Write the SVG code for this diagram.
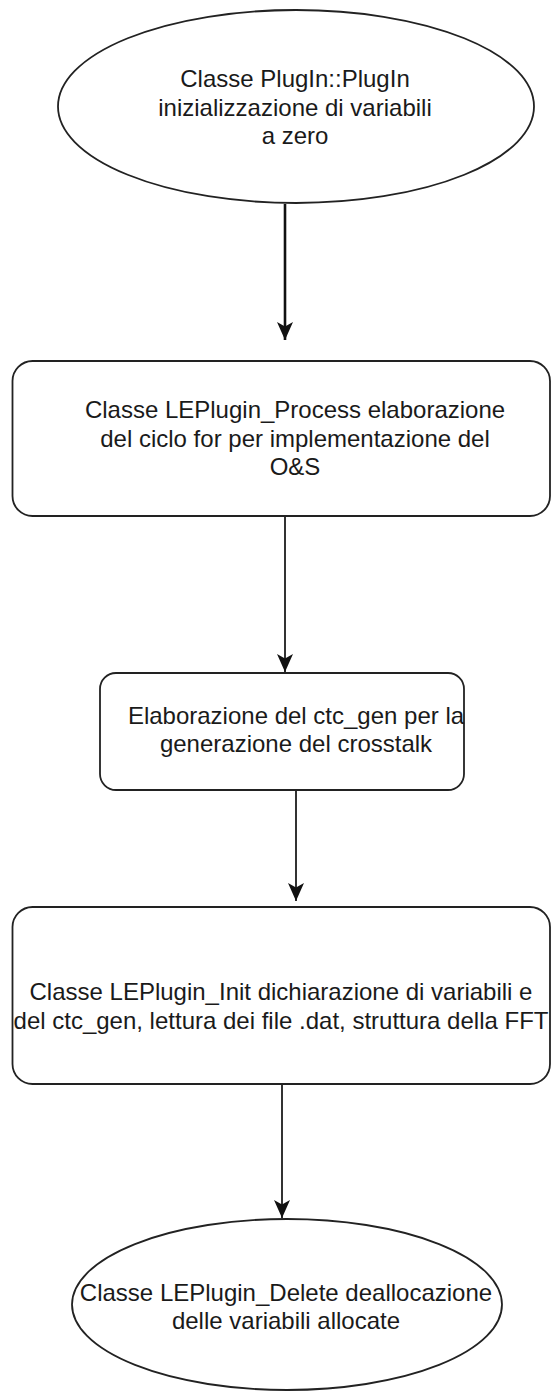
<svg xmlns="http://www.w3.org/2000/svg" width="552" height="1393" viewBox="0 0 552 1393">
<defs>
<marker id="arr" markerUnits="userSpaceOnUse" markerWidth="18" markerHeight="16" refX="18" refY="8" orient="auto">
<path d="M0,0 L18,8 L0,16 L4.5,8 Z" fill="#111"/>
</marker>
<style>
.shape{fill:#fff;stroke:#222;stroke-width:1.8}
.t{font-family:"Liberation Sans",Arial,sans-serif;font-size:24px;fill:#1a1a1a;text-anchor:middle}
.edge{fill:none;stroke:#333;stroke-width:2;marker-end:url(#arr)}
</style>
</defs>
<rect width="552" height="1393" fill="#fff"/>
<g id="connectors">
<path class="edge" d="M285,204 L285,340" style="stroke:#111;stroke-width:2.6"/>
<path class="edge" d="M285,516 L285,672"/>
<path class="edge" d="M296,790 L296,901"/>
<path class="edge" d="M282,1084 L282,1218"/>
</g>
<g id="n1">
<ellipse class="shape" cx="296" cy="106.5" rx="238" ry="96.5"/>
<text class="t" x="295" y="87">Classe PlugIn::PlugIn</text>
<text class="t" x="295" y="116">inizializzazione di variabili</text>
<text class="t" x="295" y="144">a zero</text>
</g>
<g id="n2">
<rect class="shape" x="12.5" y="361" width="537.5" height="155" rx="20" ry="20"/>
<text class="t" x="295" y="418">Classe LEPlugin_Process elaborazione</text>
<text class="t" x="295" y="447">del ciclo for per implementazione del</text>
<text class="t" x="295" y="475">O&amp;S</text>
</g>
<g id="n3">
<rect class="shape" x="100" y="673" width="364" height="117" rx="16" ry="16"/>
<text class="t" x="296" y="724">Elaborazione del ctc_gen per la</text>
<text class="t" x="296" y="752">generazione del crosstalk</text>
</g>
<g id="n4">
<rect class="shape" x="12.5" y="907" width="537.5" height="177" rx="20" ry="20"/>
<text class="t" x="281" y="1000">Classe LEPlugin_Init dichiarazione di variabili e</text>
<text class="t" x="281" y="1029">del ctc_gen, lettura dei file .dat, struttura della FFT</text>
</g>
<g id="n5">
<ellipse class="shape" cx="287" cy="1304.5" rx="215" ry="85.5"/>
<text class="t" x="286" y="1301">Classe LEPlugin_Delete deallocazione</text>
<text class="t" x="286" y="1329">delle variabili allocate</text>
</g>
</svg>
